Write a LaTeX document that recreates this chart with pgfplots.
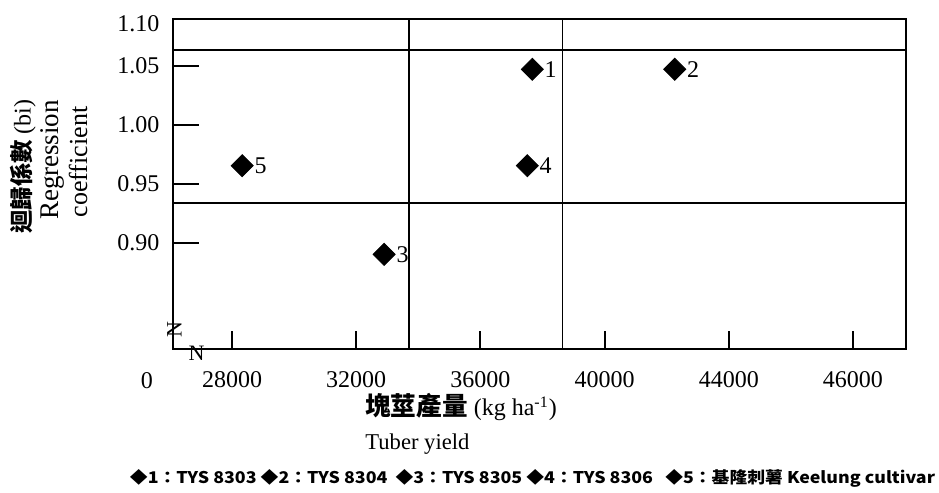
\documentclass[border=0pt]{standalone}
\usepackage{graphicx}
\usepackage{pgfplots}
\pgfplotsset{compat=1.18}
\usepackage{fontspec}
\setmainfont{Liberation Serif}
\newfontfamily\cjk{Noto Sans CJK TC}

\pgfplotstableread{
x y label
37673 1.0472 1
42260 1.0472 2
32899 0.8904 3
37512 0.9655 4
28326 0.9655 5
}\pts

\begin{document}
\begin{tikzpicture}
\begin{axis}[
  scale only axis, width=366.25pt, height=165pt,
  xmin=26113, xmax=49710, ymin=0.8102, ymax=1.0898,
  axis line style={line width=1pt},
  xtick={28000,32000,36000,40000,44000,48000},
  xticklabels={28000,32000,36000,40000,44000,46000},
  ytick={0.90,0.95,1.00,1.05},
  yticklabels={0.90,0.95,1.00,1.05},
  extra y ticks={1.0898}, extra y tick labels={1.10},
  extra y tick style={yticklabel style={yshift=-2.5pt}},
  xtick pos=bottom, ytick pos=left, tick align=inside,
  tick style={line width=1pt, black},
  xtick style={/pgfplots/major tick length=9pt},
  ytick style={/pgfplots/major tick length=12.5pt},
  ticklabel style={font=\fontsize{12}{14}\selectfont},
  xticklabel style={yshift=-7.7pt},
  yticklabel style={xshift=-3.5pt},
  scaled x ticks=false,
  clip=false,
]
\addplot[line width=0.9pt] coordinates {(33687,0.8102) (33687,1.0898)};
\addplot[line width=0.9pt] coordinates {(38645,0.8102) (38645,1.0898)};
\addplot[line width=0.9pt] coordinates {(26113,1.0636) (49710,1.0636)};
\addplot[line width=0.9pt] coordinates {(26113,0.9342) (49710,0.9342)};
\addplot[only marks, mark=square*, mark size=3.9pt,
  mark options={rotate=45, fill=black, draw=black},
  nodes near coords, point meta=explicit symbolic,
  nodes near coords style={anchor=west, xshift=6pt, inner sep=0pt,
    font=\fontsize{12}{14}\selectfont, text=black}]
  table[x=x, y=y, meta=label] {\pts};
\end{axis}
% zero label at left of axis
\node[anchor=north, inner sep=0pt, font=\fontsize{12}{14}\selectfont] at (-13.25pt,-11.5pt) {0};
% axis break marks
\node[rotate=90, inner sep=0pt, font=\fontsize{11}{12}\selectfont] at (0.5pt,9.75pt) {N};
\node[inner sep=0pt, font=\fontsize{11}{12}\selectfont] at (11.5pt,-2.25pt) {N};
% y label
\node[rotate=90, inner sep=0pt] at (-75.25pt,91.2pt) {{\cjk\bfseries\fontsize{11.7}{13}\selectfont 迴歸係數}\fontsize{12}{14}\selectfont\ (bi)};
\node[rotate=90, inner sep=0pt] at (-60.75pt,94.5pt) {\fontsize{13.5}{15}\selectfont Regression};
\node[rotate=90, inner sep=0pt] at (-47.75pt,93.5pt) {\fontsize{13}{15}\selectfont coefficient};
% x label
\node[anchor=base west, inner sep=0pt] at (95.75pt,-33.5pt) {{\cjk\bfseries\fontsize{12.8}{14}\selectfont 塊莖產量}\fontsize{12}{14}\selectfont\ (kg ha\textsuperscript{-1})};
\node[anchor=base west, inner sep=0pt] at (95.75pt,-50.5pt) {\fontsize{11.3}{13}\selectfont Tuber yield};
% legend
\node[inner sep=0pt] at (179.5pt,-64.5pt) {\resizebox{402.5pt}{7pt}{\cjk\bfseries ◆1：TYS 8303 ◆2：TYS 8304\ \ ◆3：TYS 8305 ◆4：TYS 8306\ \ \ ◆5：基隆刺薯 Keelung cultivar}};
\pgfresetboundingbox
\path[use as bounding box] (-86.75pt,-72pt) rectangle (382.75pt,174.5pt);
\end{tikzpicture}
\end{document}
